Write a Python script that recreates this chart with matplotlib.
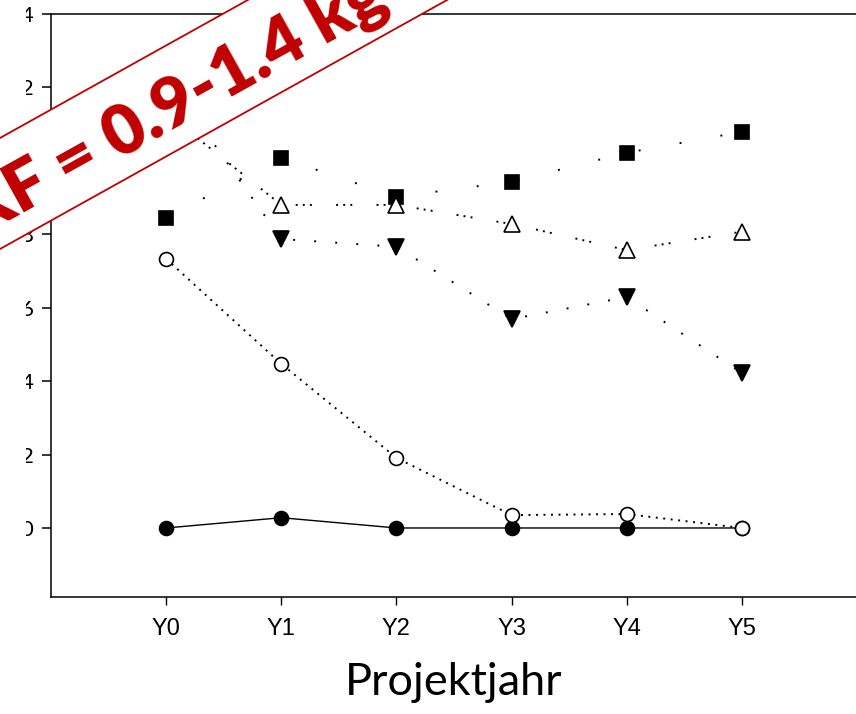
import matplotlib

matplotlib.use("Agg")
from matplotlib import pyplot as plt
from matplotlib.patches import Polygon, Rectangle
import numpy as np

# values
years = ["Y0", "Y1", "Y2", "Y3", "Y4", "Y5"]
filled_circle = [0.0, 0.28, 0.0, 0.0, 0.0, 0.0]
open_circle = [7.33, 4.47, 1.91, 0.35, 0.38, 0.0]
filled_square = [8.45, 10.08, 9.02, 9.43, 10.22, 10.79]
open_triangle = [11.3, 8.8, 8.8, 8.28, 7.57, 8.07]
filled_triangle_down = [12.3, 7.87, 7.66, 5.69, 6.29, 4.22]
y_ticks = [0, 2, 4, 6, 8, 10, 12, 14]
banner_text = "KF = 0.9-1.4 kg N ha"

W, H = 856, 714
RED = "#c00000"

plt.rcParams["lines.scale_dashes"] = False


def fig_xy(x_px, y_px):
    return x_px / W, 1.0 - y_px / H


figure = plt.figure(figsize=(W / 100, H / 100), dpi=100)
axis = figure.add_axes([51 / W, 1 - 597 / H, (857 - 51) / W, (597 - 14) / H])

x = np.arange(len(years))
marker_style = dict(markersize=10, markeredgewidth=1.2, markeredgecolor="black", color="black")

axis.plot(x, filled_circle, marker="o", linestyle="-", linewidth=1.0, markerfacecolor="black", **marker_style)
axis.plot(x, open_circle, marker="o", linestyle=(0, (1.4, 4.0)), linewidth=1.4,
          markerfacecolor="white", **marker_style)
axis.plot(x, filled_square, marker="s", linestyle=(0, (1.4, 28.5)), linewidth=1.4,
          markerfacecolor="black", **marker_style)
axis.plot(x, open_triangle, marker="^", linestyle=(0, (1.4, 3.7, 1.4, 3.7, 1.4, 17.5)), linewidth=1.4,
          markerfacecolor="white", **{**marker_style, "markersize": 11})
axis.plot(x, filled_triangle_down, marker="v", linestyle=(0, (1.4, 13.8)), linewidth=1.4,
          markerfacecolor="black", **{**marker_style, "markersize": 11.5})

axis.set_xlim(-1.0, 6.0)
axis.set_ylim(-1.88, 14.0)
axis.set_xticks(x)
axis.set_xticklabels(years, fontfamily="Liberation Sans", fontsize=17)
axis.set_yticks(y_ticks)
axis.set_yticklabels([str(v) for v in y_ticks], fontfamily="Lato", fontsize=16)
axis.tick_params(axis="x", direction="out", length=6, width=1.0, pad=9)
axis.tick_params(axis="y", direction="out", length=6.5, width=1.1, pad=6.0)
for side in ["left", "top", "bottom", "right"]:
    axis.spines[side].set_linewidth(1.1)
axis.set_xlabel("Projektjahr", fontfamily="Lato", fontsize=32.5, labelpad=16)

# the left part of the tick labels is cut away in the reference
figure.patches.append(Rectangle(fig_xy(0, H), 26 / W, 1.0, transform=figure.transFigure,
                                facecolor="white", edgecolor="none", zorder=0.5))

# red banner across the upper left corner
slope = 0.557
corners = [(-60, 249 + 60 * slope), (700, 249 - 700 * slope),
           (700, 138 - 700 * slope), (-60, 138 + 60 * slope)]
banner = Polygon([fig_xy(cx, cy) for cx, cy in corners], closed=True,
                 transform=figure.transFigure, facecolor="white", edgecolor=RED,
                 linewidth=1.3, zorder=1)
figure.patches.append(banner)
angle = np.degrees(np.arctan(slope))
tx, ty = fig_xy(-33, 193.5 + 33 * slope + 9)
figure.text(tx, ty, banner_text, color=RED, fontsize=50, fontweight="heavy",
            fontfamily="Lato", rotation=angle, rotation_mode="anchor",
            ha="left", va="center", zorder=3)

figure.savefig("out.png", dpi=100)
